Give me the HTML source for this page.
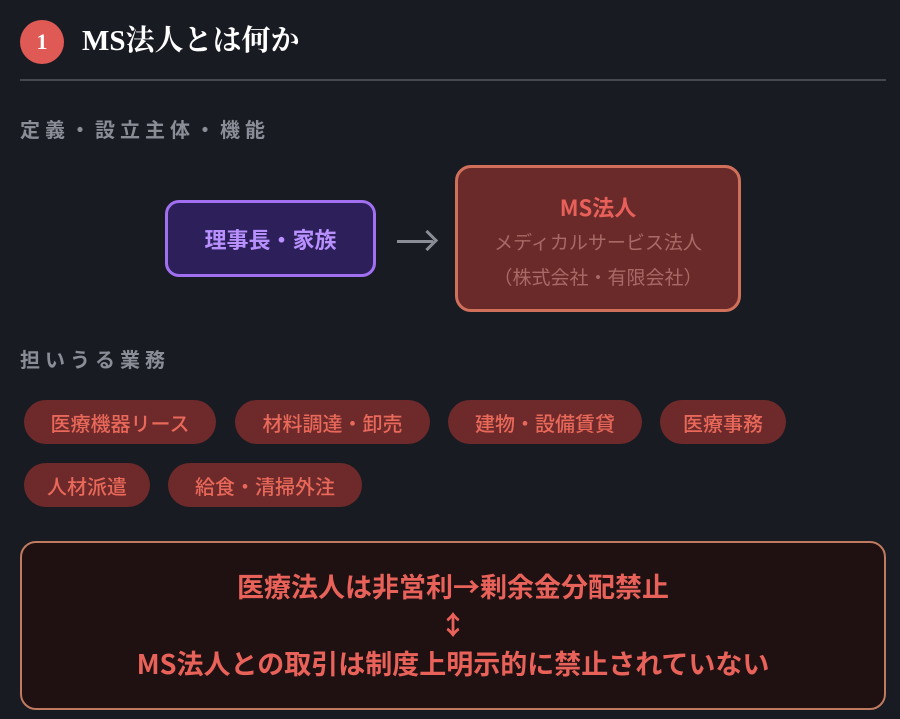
<!DOCTYPE html>
<html><head><meta charset="utf-8"><style>
*{margin:0;padding:0;box-sizing:border-box}
body{width:900px;height:719px;background:#181b22;position:relative;overflow:hidden;font-family:"Noto Sans CJK JP","Liberation Sans",sans-serif}
.a{position:absolute}
.circ{left:20px;top:20px;width:44px;height:44px;border-radius:50%;background:#e05a55;color:#fff;font:bold 22px "Liberation Serif",serif;display:flex;align-items:center;justify-content:center}
.title{left:82px;top:19px;font:bold 29px "Liberation Serif","Noto Serif CJK SC",serif;color:#fff;line-height:44px}
.line{left:20px;top:79px;width:866px;height:2px;background:#45484f}
.sub{left:20px;top:114px;font-size:20px;font-weight:bold;color:#8a8d96;letter-spacing:5px;line-height:30px}
.b1{left:165px;top:200px;width:211px;height:77px;border:3px solid #a070f0;background:#2c1f5a;border-radius:14px;display:flex;align-items:center;justify-content:center;color:#b890ff;font-weight:bold;font-size:22px}
.arr{left:397px;top:240px;width:36px;height:3px;background:#8a8d96}
.arrh{left:420px;top:233px;width:15px;height:15px;border-top:3px solid #8a8d96;border-right:3px solid #8a8d96;transform:rotate(45deg)}
.b2{left:455px;top:165px;width:286px;height:147px;border:3px solid #d0705a;background:#6b2a2a;border-radius:16px;text-align:center}
.b2 .t{margin-top:22px;color:#e8605a;font-weight:bold;font-size:22px;line-height:34px}
.b2 .s{color:#a86a66;font-size:19px;line-height:35px}
.pill{height:44px;border-radius:22px;background:#6e2a2a;color:#e8685a;font-size:20px;font-weight:500;display:flex;align-items:center;justify-content:center}
.box{left:20px;top:541px;width:866px;height:169px;border:2px solid #c07a60;background:#1f1012;border-radius:16px;text-align:center;color:#e8625a;font-weight:bold;font-size:27px}
</style></head><body>
<div class="a circ">1</div>
<div class="a title">MS法人とは何か</div>
<div class="a line"></div>
<div class="a sub">定義・設立主体・機能</div>
<div class="a b1">理事長・家族</div>
<div class="a arr"></div><div class="a arrh"></div>
<div class="a b2"><div class="t">MS法人</div><div class="s">メディカルサービス法人</div><div class="s">（株式会社・有限会社）</div></div>
<div class="a sub" style="top:344px">担いうる業務</div>
<div class="a pill" style="left:24px;top:400px;width:192px">医療機器リース</div>
<div class="a pill" style="left:235px;top:400px;width:195px">材料調達・卸売</div>
<div class="a pill" style="left:448px;top:400px;width:194px">建物・設備賃貸</div>
<div class="a pill" style="left:660px;top:400px;width:126px">医療事務</div>
<div class="a pill" style="left:24px;top:463px;width:126px">人材派遣</div>
<div class="a pill" style="left:168px;top:463px;width:194px">給食・清掃外注</div>
<div class="a box">
<div style="margin-top:23px;line-height:40px">医療法人は非営利→剰余金分配禁止</div>
<div style="line-height:36px">↕</div>
<div style="line-height:42px">MS法人との取引は制度上明示的に禁止されていない</div>
</div>
</body></html>
